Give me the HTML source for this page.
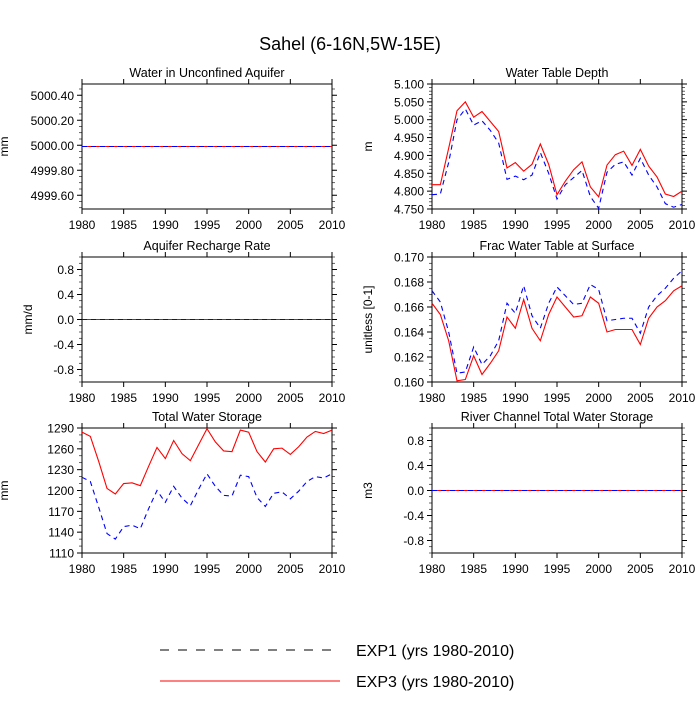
<!DOCTYPE html>
<html><head><meta charset="utf-8"><style>
body{margin:0;background:#fff;}
svg text{font-family:"Liberation Sans",sans-serif;fill:#000;}
</style></head><body>
<svg id="c" width="700" height="700" xmlns="http://www.w3.org/2000/svg">
<text x="350" y="50" font-size="18" text-anchor="middle">Sahel (6-16N,5W-15E)</text>
<g>
<line x1="160" y1="650" x2="340" y2="650" stroke="#000" stroke-width="1" stroke-dasharray="9,9"/>
<text x="356" y="656" font-size="16">EXP1 (yrs 1980-2010)</text>
<line x1="160" y1="681" x2="340" y2="681" stroke="red" stroke-width="1"/>
<text x="356" y="687" font-size="16">EXP3 (yrs 1980-2010)</text>
</g>
</svg>
<script>
const years=[1980,1981,1982,1983,1984,1985,1986,1987,1988,1989,1990,1991,1992,1993,1994,1995,1996,1997,1998,1999,2000,2001,2002,2003,2004,2005,2006,2007,2008,2009,2010];
const xTicks=[1980,1985,1990,1995,2000,2005,2010];
const wtdExp3=[4.818,4.818,4.92,5.025,5.05,5.007,5.023,4.995,4.967,4.865,4.880,4.856,4.875,4.932,4.875,4.79,4.828,4.86,4.882,4.812,4.784,4.873,4.902,4.912,4.872,4.917,4.87,4.84,4.792,4.785,4.80];
const wtdExp1=[4.790,4.792,4.88,5.00,5.03,4.985,4.997,4.97,4.935,4.833,4.842,4.832,4.845,4.908,4.85,4.778,4.818,4.838,4.858,4.785,4.752,4.853,4.875,4.882,4.845,4.892,4.845,4.812,4.765,4.755,4.763];
const fracExp3=[0.1663,0.1654,0.1633,0.1601,0.1602,0.1621,0.1606,0.1615,0.1625,0.1652,0.1643,0.1666,0.1643,0.1633,0.1654,0.1668,0.1660,0.1652,0.1653,0.1668,0.1663,0.1640,0.1642,0.1642,0.1642,0.1630,0.1651,0.1660,0.1665,0.1673,0.1677];
const fracExp1=[0.1673,0.1664,0.1640,0.1607,0.1608,0.1628,0.1614,0.1621,0.1633,0.1663,0.1655,0.1677,0.1653,0.1643,0.1663,0.1676,0.1669,0.1662,0.1663,0.1678,0.1674,0.1649,0.1650,0.1651,0.1651,0.1639,0.1660,0.1669,0.1675,0.1683,0.1689];
const twsExp3=[1284,1278,1242,1203,1195,1210,1211,1207,1235,1262,1246,1272,1253,1243,1266,1289,1270,1257,1256,1287,1284,1256,1241,1260,1261,1252,1263,1277,1285,1282,1287];
const twsExp1=[1219,1213,1176,1138,1130,1148,1150,1145,1174,1200,1183,1206,1189,1178,1202,1224,1206,1193,1192,1222,1220,1190,1177,1196,1198,1188,1199,1213,1220,1218,1224];
const aquiferExp3=years.map(()=>4999.99);
const aquiferExp1=years.map(()=>4999.99);
const rechargeExp3=years.map(()=>0);
const rechargeExp1=years.map(()=>0);
const riverExp3=years.map(()=>0);
const riverExp1=years.map(()=>0);
const aquiferTicks=["4999.60","4999.80","5000.00","5000.20","5000.40"];
const zeroTicks=["-0.8","-0.4","0.0","0.4","0.8"];
const wtdTicks=["4.750","4.800","4.850","4.900","4.950","5.000","5.050","5.100"];
const fracTicks=["0.160","0.162","0.164","0.166","0.168","0.170"];
const twsTicks=["1110","1140","1170","1200","1230","1260","1290"];

const NS="http://www.w3.org/2000/svg";
const svg=document.getElementById('c');
function mk(t,a,p){const e=document.createElementNS(NS,t);for(const k in a)e.setAttribute(k,a[k]);(p||svg).appendChild(e);return e;}
const panels=[
 {id:'aquifer',title:'Water in Unconfined Aquifer',unit:'mm',uo:74,x:82,y:84,ymin:4999.49,ymax:5000.49,ticks:aquiferTicks,minor:0.05,e1:aquiferExp1,e3:aquiferExp3},
 {id:'wtd',title:'Water Table Depth',unit:'m',uo:60,x:432,y:84,ymin:4.75,ymax:5.10,ticks:wtdTicks,minor:0.01,e1:wtdExp1,e3:wtdExp3},
 {id:'recharge',title:'Aquifer Recharge Rate',unit:'mm/d',uo:50,x:82,y:257,ymin:-1,ymax:1,ticks:zeroTicks,minor:0.1,e1:rechargeExp1,e3:rechargeExp3},
 {id:'frac',title:'Frac Water Table at Surface',unit:'unitless [0-1]',uo:60,x:432,y:257,ymin:0.160,ymax:0.170,ticks:fracTicks,minor:0.0005,e1:fracExp1,e3:fracExp3},
 {id:'tws',title:'Total Water Storage',unit:'mm',uo:74,x:82,y:428,ymin:1110,ymax:1290,ticks:twsTicks,minor:10,e1:twsExp1,e3:twsExp3},
 {id:'river',title:'River Channel Total Water Storage',unit:'m3',uo:60,x:432,y:428,ymin:-1,ymax:1,ticks:zeroTicks,minor:0.1,e1:riverExp1,e3:riverExp3}
];
const W=250,H=125;
panels.forEach(p=>{
 const g=mk('g',{});
 
 
 const xs=v=>p.x+(v-1980)/30*W;
 const ys=v=>p.y+H-(v-p.ymin)/(p.ymax-p.ymin)*H;
 const t=mk('text',{x:p.x+W/2,y:p.y-7,'font-size':12.5,'text-anchor':'middle'},g);t.textContent=p.title;
 
 const u=mk('text',{transform:`translate(${p.x-p.uo},${p.y+H/2}) rotate(-90)`,'font-size':12,'text-anchor':'middle'},g);u.textContent=p.unit;
 
 for(let yr=1980;yr<=2010;yr++){const X=xs(yr);const L=yr%5==0?5:0;if(L){mk('line',{x1:X,y1:p.y+H,x2:X,y2:p.y+H+L,stroke:'#000'},g);mk('line',{x1:X,y1:p.y,x2:X,y2:p.y-L,stroke:'#000'},g);}}
 xTicks.forEach(v=>{const l=mk('text',{x:xs(v),y:p.y+H+20,'font-size':12,'text-anchor':'middle'},g);l.textContent=v;
  });
 const start=Math.ceil(p.ymin/p.minor-1e-6);
 for(let i=start;i*p.minor<=p.ymax+1e-9;i++){const Y=ys(i*p.minor);mk('line',{x1:p.x,y1:Y,x2:p.x-3,y2:Y,stroke:'#000','stroke-width':0.6},g);mk('line',{x1:p.x+W,y1:Y,x2:p.x+W+3,y2:Y,stroke:'#000','stroke-width':0.6},g);}
 p.ticks.forEach(s=>{const v=parseFloat(s),Y=ys(v);
  mk('line',{x1:p.x,y1:Y,x2:p.x-5,y2:Y,stroke:'#000'},g);mk('line',{x1:p.x+W,y1:Y,x2:p.x+W+5,y2:Y,stroke:'#000'},g);
  const l=mk('text',{x:p.x-8,y:Y+4.5,'font-size':12,'text-anchor':'end'},g);l.textContent=s;
  });
 mk('rect',{x:p.x,y:p.y,width:W,height:H,fill:'none',stroke:'#000','stroke-width':1},g);
 const l3=mk('polyline',{points:p.e3.map((v,i)=>xs(years[i])+','+ys(v)).join(' '),fill:'none',stroke:'red','stroke-width':1.1},g);
 
 const l1=mk('polyline',{points:p.e1.map((v,i)=>xs(years[i])+','+ys(v)).join(' '),fill:'none',stroke:'blue','stroke-width':1.1,'stroke-dasharray':'5,4'},g);
 
});
</script>
</body></html>
